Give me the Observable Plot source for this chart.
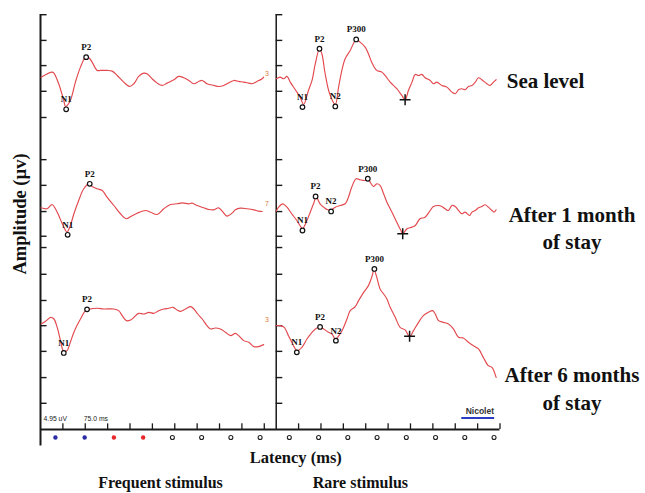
<!DOCTYPE html>
<html>
<head>
<meta charset="utf-8">
<script src="https://cdn.jsdelivr.net/npm/d3@7"></script>
<script src="https://cdn.jsdelivr.net/npm/@observablehq/plot@0.6"></script>
<style>
  html, body { margin: 0; padding: 0; background: #fff; }
  #chart svg { display: block; }
</style>
</head>
<body>
<div id="chart"></div>
<script>
// ---------- DATA ----------
const conditions = ["Sea level", "After 1 month of stay", "After 6 months of stay"];
const stimuli = ["Frequent stimulus", "Rare stimulus"];
const endCodes = ["3", "7", "3"];

// [latency (ms), amplitude (µV)]
const freqSea = [[2,0.25],[39,1.23],[45,1.03],[61,-1.03],[78,-4.28],[84,-5.45],[100,-4.28],[117,-0.72],[134,2.2],[151,4.14],[162,4.03],[173,3.17],[190,1.56],[201,1.56],[223,1.56],[240,1.42],[257,0.58],[279,-0.72],[299,-1.56],[313,-1.03],[329,0.39],[346,1.03],[357,0.91],[374,-0.06],[391,-0.91],[408,-1.36],[424,-0.91],[447,-0.25],[463,0.39],[480,0.14],[497,-0.39],[514,-1.03],[530,-0.58],[542,-0.39],[558,-1.03],[581,-1.36],[597,-1.56],[614,-1.36],[625,-1.03],[648,-0.39],[664,-0.58],[681,-0.72],[698,-0.91],[709,-1.03],[726,-0.58],[743,-0.06],[748,0.25]];
const freqMonth1 = [[2,0.13],[22,-0.06],[39,0.78],[50,-0.06],[61,-1.36],[73,-2.98],[84,-4.28],[89,-4.6],[100,-3.31],[112,-1.03],[128,1.56],[145,3.83],[162,4.8],[173,4.28],[190,3.83],[207,3.5],[223,2.2],[246,0.58],[268,-1.03],[288,-2.0],[302,-1.56],[324,-0.91],[352,-0.39],[369,-0.72],[391,-1.17],[413,-0.06],[436,0.78],[458,0.91],[475,1.1],[497,0.91],[508,1.03],[525,0.58],[547,0.13],[564,-0.19],[581,-0.26],[597,0.13],[609,-0.52],[625,-1.49],[642,-0.91],[653,-0.26],[670,0.06],[692,-0.06],[715,-0.26],[731,-0.52],[743,-0.58]];
const freqMonth6 = [[2,0.13],[17,0.65],[34,1.42],[45,1.1],[56,-0.52],[67,-3.11],[76,-5.06],[84,-5.19],[89,-5.06],[100,-3.44],[114,-1.17],[134,1.1],[151,2.72],[162,2.98],[190,3.18],[212,3.05],[246,3.05],[262,2.72],[274,1.75],[288,0.78],[302,0.91],[313,1.42],[329,2.2],[346,2.07],[363,2.4],[380,2.2],[396,2.72],[413,3.05],[430,3.18],[444,3.37],[458,2.85],[469,2.59],[486,3.05],[503,3.5],[514,3.05],[527,2.07],[542,1.1],[558,-0.19],[570,-0.84],[586,-0.65],[603,-0.84],[620,-1.49],[637,-2.14],[653,-1.69],[664,-2.14],[681,-3.11],[698,-3.44],[715,-4.28],[731,-4.28],[748,-3.89]];
const rareSea = [[0,-0.06],[13,0.26],[25,-0.06],[36,0.39],[47,-0.72],[64,-2.2],[80,-3.63],[92,-5.06],[108,-2.34],[120,-0.39],[131,2.86],[145,5.78],[153,4.8],[164,0.91],[179,-2.98],[198,-5.06],[209,-1.69],[220,1.56],[231,3.83],[248,5.45],[268,7.53],[281,7.06],[298,6.09],[309,4.8],[320,3.17],[337,1.56],[354,1.23],[365,0.58],[382,-0.72],[404,-2.0],[421,-3.31],[432,-4.15],[443,-2.34],[455,-0.72],[466,0.78],[477,0.58],[488,0.78],[499,0.14],[516,-0.39],[527,-1.03],[538,-0.72],[555,-1.36],[572,-1.69],[589,-2.66],[600,-2.98],[611,-2.2],[622,-2.0],[633,-2.2],[644,-1.56],[656,-1.36],[667,-0.72],[678,0.14],[689,-0.25],[706,-1.03],[717,-1.36],[728,-0.72],[737,-0.25]];
const rareMonth1 = [[0,-0.52],[8,0.26],[22,0.91],[36,0.26],[52,-1.03],[69,-2.34],[83,-3.63],[88,-3.96],[103,-2.34],[114,-0.72],[125,0.91],[134,2.2],[147,0.91],[159,0.26],[172,-0.26],[184,-0.26],[198,0.26],[214,0.58],[231,0.91],[242,2.2],[253,4.15],[268,5.78],[281,5.58],[298,5.45],[307,5.78],[315,5.12],[326,4.28],[337,4.8],[348,4.48],[360,2.86],[371,1.23],[388,-0.72],[404,-2.66],[418,-4.28],[424,-4.92],[438,-3.96],[455,-3.63],[466,-3.31],[482,-2.0],[499,-1.69],[516,-0.39],[527,0.39],[544,0.58],[555,0.39],[566,-0.06],[577,-0.39],[589,0.58],[600,0.39],[611,-0.39],[622,-1.03],[633,-0.72],[648,-1.36],[656,-0.72],[667,-0.39],[678,0.13],[689,0.39],[700,0.72],[711,0.26],[723,-0.39],[730,-0.72],[737,-0.26]];
const rareMonth6 = [[0,-0.19],[13,-0.19],[27,-0.52],[41,-2.14],[58,-4.09],[69,-5.06],[86,-4.41],[103,-2.79],[120,-1.49],[136,-0.65],[147,-0.52],[159,-0.84],[175,-1.49],[187,-1.81],[198,-2.79],[214,-1.81],[226,-0.52],[237,1.1],[248,2.72],[265,3.5],[276,4.67],[293,6.29],[309,7.59],[320,9.2],[328,10.64],[337,9.2],[348,6.95],[360,5.97],[371,5.0],[382,3.37],[399,1.42],[415,-0.52],[432,-1.03],[447,-2.34],[460,-1.17],[477,0.45],[493,1.75],[510,2.4],[524,2.72],[533,2.07],[544,0.78],[560,0.45],[577,0.13],[594,-0.84],[611,-2.46],[627,-2.59],[644,-3.44],[661,-4.09],[678,-4.73],[694,-6.36],[711,-7.98],[723,-8.31],[737,-10.26]];

// labelled components: [name, latency ms, amplitude µV]
const freqSeaPeaks = [["N1",86,-6.0],["P2",153,4.14]];
const freqMonth1Peaks = [["N1",91,-5.12],["P2",165,4.8]];
const freqMonth6Peaks = [["N1",78,-5.51],["P2",156,2.98]];
const rareSeaPeaks = [["N1",88,-5.58],["P2",145,5.78],["N2",198,-5.45],["P300",268,7.59]];
const rareMonth1Peaks = [["N1",88,-4.28],["P2",132,2.34],["N2",184,-0.58],["P300",307,5.78]];
const rareMonth6Peaks = [["N1",69,-5.39],["P2",147,-0.45],["N2",200,-3.11],["P300",329,10.84]];
// "+" cursor marks on the rare traces: [latency ms, amplitude µV]
const rarePlus = [[432,-4.15],[424,-4.92],[447,-2.27]];

// axis ticks
const xTickMs = [75,150,225,300,375,450,525,600,675,750];
const yTickUv = [80.7,75.7,70.8,65.8,60.7,52.5,47.5,42.4,37.6,35.4,30.2,25.1,20.2,15.2,10.1,5.1];
const markerKinds = ["blue","blue","red","red","open","open","open","open","open","open","open","open","open","open","open","open"];
const scaleTexts = ["4.95 uV", "75.0 ms"];

// ---------- LAYOUT (display offsets) ----------
const panelStart = {"Frequent stimulus": 0, "Rare stimulus": 790};
const rowBase = {"Sea level": 68.3, "After 1 month of stay": 43.0, "After 6 months of stay": 20.4};
const X_MAX = 1540, Y_MAX = 80.74;

const series = [
  ["Frequent stimulus", "Sea level", freqSea, freqSeaPeaks],
  ["Frequent stimulus", "After 1 month of stay", freqMonth1, freqMonth1Peaks],
  ["Frequent stimulus", "After 6 months of stay", freqMonth6, freqMonth6Peaks],
  ["Rare stimulus", "Sea level", rareSea, rareSeaPeaks],
  ["Rare stimulus", "After 1 month of stay", rareMonth1, rareMonth1Peaks],
  ["Rare stimulus", "After 6 months of stay", rareMonth6, rareMonth6Peaks]
];
const lineRows = [], peakRows = [];
for (const [stim, cond, pts, peaks] of series) {
  for (const [t, v] of pts) lineRows.push({key: stim + cond, X: t + panelStart[stim], Y: v + rowBase[cond]});
  for (const [name, t, v] of peaks) peakRows.push({name, X: t + panelStart[stim], Y: v + rowBase[cond]});
}
const plusRows = rarePlus.map(([t, v], i) => ({X: t + panelStart["Rare stimulus"], Y: v + rowBase[conditions[i]]}));
const yTickRows = [];
for (const s of stimuli) for (const y of yTickUv) yTickRows.push({x: panelStart[s], y});
const xTickRows = [];
for (const s of stimuli) for (const t of xTickMs) xTickRows.push(panelStart[s] + t);
const markerRows = markerKinds.map((k, i) => ({k, X: 50 + i * 98}));
const endRows = conditions.map((c, i) => ({text: endCodes[i], Y: rowBase[c] + 1}));
const rowLabelRows = [
  {text: "Sea level", y: 67.7},
  {text: "After 1 month\nof stay", y: 39.4},
  {text: "After 6 months\nof stay", y: 8.2}
];

const serif = "'Liberation Serif', 'Times New Roman', Times, serif";
const axisCol = "#1a1a1a";
const traceCol = "#e2484d";

const chart = Plot.plot({
  width: 645,
  height: 493,
  marginLeft: 40,
  marginRight: 145.5,
  marginTop: 14,
  marginBottom: 64,
  x: {domain: [0, X_MAX], axis: null},
  y: {domain: [0, Y_MAX], axis: null},
  style: {fontFamily: serif, background: "#fff", overflow: "visible"},
  marks: [
    // axes frame
    Plot.ruleX([0], {y1: -3.2, y2: Y_MAX, stroke: axisCol, strokeWidth: 2}),
    Plot.ruleX([panelStart["Rare stimulus"]], {y1: 0, y2: Y_MAX, stroke: axisCol, strokeWidth: 1.5}),
    Plot.ruleY([0], {x1: 0, x2: X_MAX, stroke: axisCol, strokeWidth: 2}),
    Plot.ruleY(yTickRows, {y: "y", x1: "x", x2: d => d.x + 22, stroke: axisCol, strokeWidth: 1.4}),
    Plot.ruleX(xTickRows, {x: d => d, y1: 0, y2: 1.1, stroke: axisCol, strokeWidth: 1.3}),
    // traces
    Plot.line(lineRows, {x: "X", y: "Y", z: "key", stroke: traceCol, strokeWidth: 1.15, curve: "catmull-rom"}),
    // components
    Plot.dot(peakRows, {x: "X", y: "Y", r: 2.3, stroke: "#111", fill: "#fff", strokeWidth: 1.2}),
    Plot.text(peakRows, {x: "X", y: "Y", text: "name", dy: -10, fontSize: 9, fontWeight: "bold", fill: "#111"}),
    Plot.dot(plusRows, {x: "X", y: "Y", symbol: "plus", r: 3.6, stroke: "#111", strokeWidth: 1.5}),
    // trace end codes
    Plot.text(endRows, {x: 752, y: "Y", text: "text", textAnchor: "start", fontSize: 7, fill: "#e07a3a", fontFamily: "'Liberation Sans', Arial, sans-serif"}),
    // scale legend texts
    Plot.text(scaleTexts, {x: (d, i) => [10, 145][i], y: 2, text: d => d, textAnchor: "start", fontSize: 6.8, fill: "#222", fontFamily: "'Liberation Sans Narrow', 'Liberation Sans', Arial, sans-serif"}),
    Plot.text(["Nicolet"], {x: 1520, y: 3.5, textAnchor: "end", fontSize: 8.5, fontWeight: "bold", fill: "#333", fontFamily: "'Liberation Sans', Arial, sans-serif"}),
    Plot.ruleY([2.25], {x1: 1412, x2: 1522, stroke: "#2a3cc4", strokeWidth: 2}),
    // marker track
    Plot.dot(markerRows.filter(d => d.k !== "open"), {x: "X", y: -1.56, r: 2.2, fill: d => d.k === "blue" ? "#2b2ba6" : "#e8262b", stroke: "none"}),
    Plot.dot(markerRows.filter(d => d.k === "open"), {x: "X", y: -1.56, r: 2, fill: "#fff", stroke: "#222", strokeWidth: 1.1}),
    // axis titles
    Plot.text(["Amplitude (µv)"], {frameAnchor: "left", dx: -20, dy: -8, rotate: -90, textAnchor: "middle", lineAnchor: "middle", fontSize: 18.5, fontWeight: "bold", fill: "#111"}),
    Plot.text(["Latency (ms)"], {frameAnchor: "bottom", dx: 25.5, dy: 28, textAnchor: "middle", lineAnchor: "middle", fontSize: 16.5, fontWeight: "bold", fill: "#111"}),
    Plot.text(stimuli, {x: (d, i) => [402, 1072][i], frameAnchor: "bottom", dy: 53, textAnchor: "middle", lineAnchor: "middle", fontSize: 16, fontWeight: "bold", fill: "#111"}),
    // row labels
    Plot.text(rowLabelRows.slice(0, 1), {y: "y", text: "text", frameAnchor: "right", dx: 45.5, textAnchor: "middle", lineAnchor: "middle", fontSize: 21, fontWeight: "bold", fill: "#111"}),
    Plot.text(rowLabelRows.slice(1), {y: "y", text: "text", frameAnchor: "right", dx: 72, textAnchor: "middle", lineAnchor: "middle", lineHeight: 1.3, fontSize: 21, fontWeight: "bold", fill: "#111"})
  ]
});
document.getElementById("chart").appendChild(chart);
</script>
</body>
</html>
